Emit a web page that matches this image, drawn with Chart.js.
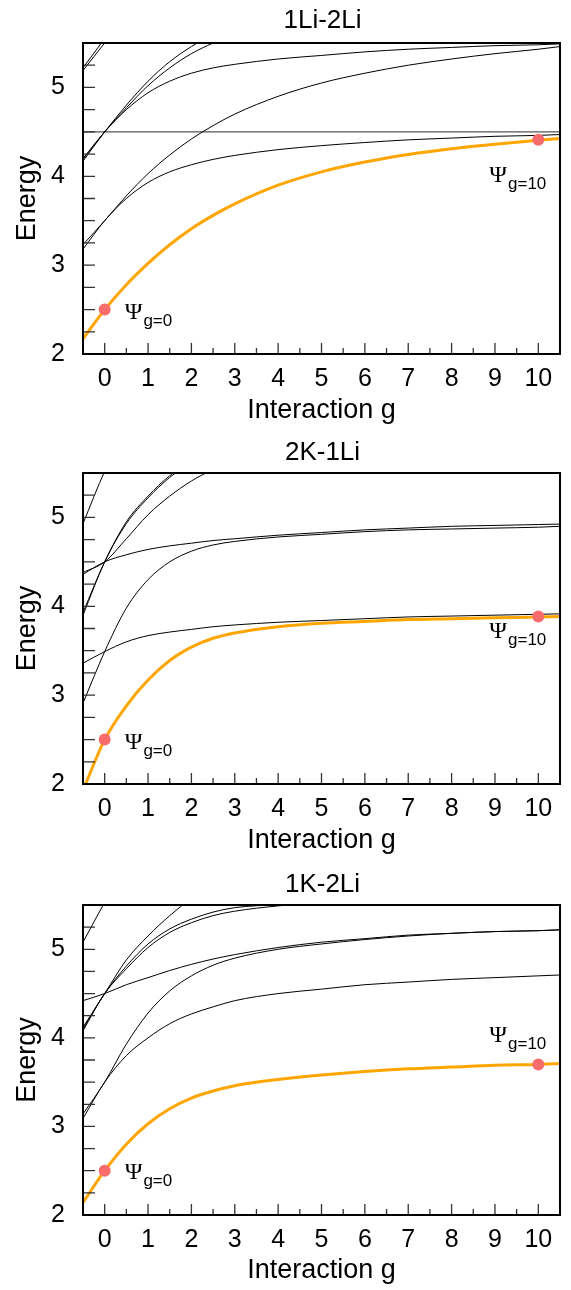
<!DOCTYPE html>
<html>
<head>
<meta charset="utf-8">
<script src="https://cdn.jsdelivr.net/npm/chart.js@4.4.1/dist/chart.umd.min.js"></script>
<style>
  body { margin: 0; background: #fff; }
  canvas { display: block; }
</style>
</head>
<body>
<canvas id="c1" width="571" height="430"></canvas>
<canvas id="c2" width="571" height="430"></canvas>
<canvas id="c3" width="571" height="430"></canvas>
<script>
// interaction strength g (shared x positions)
const G = [-0.5, 0, 0.5, 1, 1.5, 2, 2.5, 3, 4, 5, 6, 7, 8, 9, 10, 10.5];
const xTickLabels = [0, 1, 2, 3, 4, 5, 6, 7, 8, 9, 10];
const yTickLabels = [2, 3, 4, 5];
const markerG = [0, 10];

// 1Li-2Li
const p1Ground = [2.17, 2.5, 2.78, 3.02, 3.23, 3.41, 3.56, 3.69, 3.9, 4.05, 4.16, 4.245, 4.31, 4.36, 4.405, 4.425];
const p1Flat = [4.5, 4.5, 4.5, 4.5, 4.5, 4.5, 4.5, 4.5, 4.5, 4.5, 4.5, 4.5, 4.5, 4.5, 4.5, 4.5];
const p1A = [3.18, 3.5, 3.75, 3.93, 4.05, 4.13, 4.19, 4.235, 4.3, 4.345, 4.38, 4.41, 4.43, 4.45, 4.46, 4.47];
const p1B = [3.23, 3.5, 3.78, 4.03, 4.24, 4.42, 4.57, 4.7, 4.9, 5.05, 5.16, 5.25, 5.32, 5.38, 5.43, 5.46];
const p1C = [4.2, 4.5, 4.75, 4.94, 5.07, 5.16, 5.22, 5.26, 5.32, 5.36, 5.4, 5.43, 5.45, 5.47, 5.48, 5.49];
const p1D = [4.17, 4.5, 4.8, 5.07, 5.29, 5.46, 5.6, 5.72, null, null, null, null, null, null, null, null];
const p1E = [4.19, 4.5, 4.77, 5.02, 5.22, 5.38, 5.5, 5.6, 5.75, null, null, null, null, null, null, null];
const p1F = [5.19, 5.5, 5.8, null, null, null, null, null, null, null, null, null, null, null, null, null];
const p1H = [5.22, 5.55, 5.88, null, null, null, null, null, null, null, null, null, null, null, null, null];
const p1Markers = [2.5, 4.41];

// 2K-1Li
const p2Ground = [1.93, 2.5, 2.88, 3.17, 3.39, 3.54, 3.64, 3.7, 3.77, 3.81, 3.83, 3.85, 3.86, 3.87, 3.88, 3.885];
const p2A = [3.36, 3.49, 3.6, 3.67, 3.71, 3.74, 3.77, 3.79, 3.82, 3.84, 3.86, 3.88, 3.89, 3.9, 3.91, 3.915];
const p2B = [2.91, 3.49, 3.98, 4.3, 4.5, 4.62, 4.69, 4.73, 4.78, 4.81, 4.84, 4.86, 4.87, 4.88, 4.89, 4.9];
const p2C = [4.36, 4.5, 4.58, 4.64, 4.68, 4.71, 4.74, 4.76, 4.8, 4.83, 4.86, 4.88, 4.9, 4.91, 4.92, 4.925];
const p2D = [3.9, 4.5, 4.93, 5.22, 5.45, 5.62, null, null, null, null, null, null, null, null, null, null];
const p2E = [3.93, 4.5, 4.95, 5.24, 5.47, 5.64, null, null, null, null, null, null, null, null, null, null];
const p2F = [4.38, 4.5, 4.76, 5.03, 5.24, 5.41, 5.54, 5.65, null, null, null, null, null, null, null, null];
const p2H = [4.93, 5.52, 6.0, null, null, null, null, null, null, null, null, null, null, null, null, null];
const p2Markers = [2.5, 3.885];

// 1K-2Li
const p3Ground = [2.14, 2.5, 2.8, 3.03, 3.2, 3.32, 3.4, 3.46, 3.53, 3.58, 3.62, 3.65, 3.67, 3.69, 3.7, 3.71];
const p3A = [3.09, 3.5, 3.8, 4.0, 4.16, 4.27, 4.35, 4.42, 4.5, 4.55, 4.6, 4.63, 4.66, 4.68, 4.7, 4.71];
const p3B = [3.14, 3.5, 3.93, 4.28, 4.53, 4.7, 4.82, 4.9, 5.0, 5.06, 5.11, 5.15, 5.18, 5.2, 5.21, 5.22];
const p3C = [4.42, 4.5, 4.6, 4.68, 4.76, 4.83, 4.89, 4.94, 5.02, 5.08, 5.12, 5.16, 5.18, 5.2, 5.21, 5.22];
const p3D = [4.12, 4.5, 4.88, 5.15, 5.38, 5.58, null, null, null, null, null, null, null, null, null, null];
const p3E = [4.08, 4.5, 4.78, 5.02, 5.19, 5.3, 5.38, 5.43, 5.49, 5.53, 5.57, null, null, null, null, null];
const p3F = [4.1, 4.5, 4.81, 5.06, 5.23, 5.34, 5.42, 5.47, 5.505, 5.54, null, null, null, null, null, null];
const p3H = [5.08, 5.53, 5.95, null, null, null, null, null, null, null, null, null, null, null, null, null];
const p3Markers = [2.5, 3.7];

const FONT = "'Liberation Sans', Arial, sans-serif";
const SERIF = "'Liberation Serif', 'Times New Roman', serif";

function pts(vals) {
  return vals.map((v, i) => ({ x: G[i], y: v }));
}

// ticks inside + black frame + panel title
const framePlugin = {
  id: 'frame',
  afterDraw(chart, args, opts) {
    const { ctx, chartArea: a, scales: { x, y } } = chart;
    ctx.save();
    ctx.strokeStyle = '#333';
    ctx.lineWidth = 1.3;
    ctx.beginPath();
    for (let g = 0; g <= 10; g += 0.5) {
      const px = x.getPixelForValue(g);
      const len = Number.isInteger(g) ? 11 : 6;
      ctx.moveTo(px, a.bottom);
      ctx.lineTo(px, a.bottom - len);
    }
    for (let e = 2.25; e < 5.5; e += 0.25) {
      const py = y.getPixelForValue(e);
      ctx.moveTo(a.left, py);
      ctx.lineTo(a.left + 12, py);
    }
    ctx.stroke();
    ctx.strokeStyle = '#000';
    ctx.lineWidth = 2;
    ctx.strokeRect(a.left, a.top, a.right - a.left, a.bottom - a.top);

    ctx.fillStyle = '#000';
    ctx.font = '26px ' + FONT;
    ctx.textAlign = 'center';
    ctx.textBaseline = 'alphabetic';
    ctx.fillText(opts.title, (a.left + a.right) / 2 + 1, opts.titleY);
    ctx.restore();
  }
};

// Psi labels next to the markers
const psiPlugin = {
  id: 'psi',
  afterDatasetsDraw(chart, args, opts) {
    const { ctx, scales: { x, y } } = chart;
    ctx.save();
    ctx.fillStyle = '#000';
    ctx.textBaseline = 'alphabetic';
    ctx.textAlign = 'left';
    opts.items.forEach(it => {
      const px = x.getPixelForValue(it.g) + it.dx;
      const py = y.getPixelForValue(it.e) + it.dy;
      ctx.font = '24px ' + SERIF;
      ctx.fillText('\u03A8', px, py);
      const w = ctx.measureText('\u03A8').width;
      ctx.font = '17px ' + FONT;
      ctx.fillText(it.sub, px + w + 1, py + 7);
    });
    ctx.restore();
  }
};

function makeChart(cfg) {
  const datasets = [];
  datasets.push({
    data: markerG.map((g, i) => ({ x: g, y: cfg.markers[i] })),
    showLine: false, pointRadius: 6, pointBackgroundColor: '#F86C6C',
    pointBorderWidth: 0, order: 0
  });
  datasets.push({
    data: pts(cfg.ground), borderColor: '#FFA500', borderWidth: 3,
    pointRadius: 0, order: 1
  });
  (cfg.grey || []).forEach(s => datasets.push({
    data: pts(s), borderColor: '#555', borderWidth: 1.2, pointRadius: 0, order: 3
  }));
  cfg.levels.forEach(s => datasets.push({
    data: pts(s), borderColor: '#000', borderWidth: 1, pointRadius: 0, order: 2
  }));

  new Chart(document.getElementById(cfg.id), {
    type: 'line',
    data: { datasets },
    options: {
      responsive: false,
      animation: false,
      events: [],
      layout: { padding: { top: cfg.top, right: 11, left: 0, bottom: 0 } },
      elements: { line: { cubicInterpolationMode: 'monotone' }, point: { radius: 0 } },
      plugins: {
        legend: { display: false },
        tooltip: { enabled: false },
        title: { display: false },
        frame: { title: cfg.title, titleY: cfg.titleY },
        psi: { items: cfg.psi }
      },
      scales: {
        x: {
          type: 'linear', min: -0.5, max: 10.5,
          afterBuildTicks: s => { s.ticks = xTickLabels.map(v => ({ value: v })); },
          afterFit: s => { s.height = cfg.xHeight; },
          grid: { display: false, drawTicks: false },
          border: { display: false },
          ticks: { color: '#000', font: { family: FONT, size: 25 }, padding: 10, maxRotation: 0, autoSkip: false },
          title: { display: true, text: 'Interaction g', color: '#000', font: { family: FONT, size: 27 }, padding: { top: 0, bottom: 3 } }
        },
        y: {
          type: 'linear', min: 2, max: 5.5,
          afterBuildTicks: s => { s.ticks = yTickLabels.map(v => ({ value: v })); },
          afterFit: s => { s.width = 83; },
          grid: { display: false, drawTicks: false },
          border: { display: false },
          ticks: { color: '#000', font: { family: FONT, size: 25 }, padding: 18 },
          title: { display: true, text: 'Energy', color: '#000', font: { family: FONT, size: 27 }, padding: { top: 11, bottom: 0 } }
        }
      }
    },
    plugins: [framePlugin, psiPlugin]
  });
}

makeChart({
  id: 'c1', title: '1Li-2Li', top: 43, titleY: 28, xHeight: 76,
  ground: p1Ground, markers: p1Markers, grey: [p1Flat],
  levels: [p1A, p1B, p1C, p1D, p1E, p1F, p1H],
  psi: [
    { g: markerG[0], e: p1Markers[0], sub: 'g=0', dx: 20, dy: 9 },
    { g: markerG[1], e: p1Markers[1], sub: 'g=10', dx: -49, dy: 42 }
  ]
});
makeChart({
  id: 'c2', title: '2K-1Li', top: 43, titleY: 30, xHeight: 76,
  ground: p2Ground, markers: p2Markers,
  levels: [p2A, p2B, p2C, p2D, p2E, p2F, p2H],
  psi: [
    { g: markerG[0], e: p2Markers[0], sub: 'g=0', dx: 20, dy: 9 },
    { g: markerG[1], e: p2Markers[1], sub: 'g=10', dx: -49, dy: 21 }
  ]
});
makeChart({
  id: 'c3', title: '1K-2Li', top: 45, titleY: 32, xHeight: 75,
  ground: p3Ground, markers: p3Markers,
  levels: [p3A, p3B, p3C, p3D, p3E, p3F, p3H],
  psi: [
    { g: markerG[0], e: p3Markers[0], sub: 'g=0', dx: 20, dy: 8 },
    { g: markerG[1], e: p3Markers[1], sub: 'g=10', dx: -49, dy: -22 }
  ]
});
</script>
</body>
</html>
